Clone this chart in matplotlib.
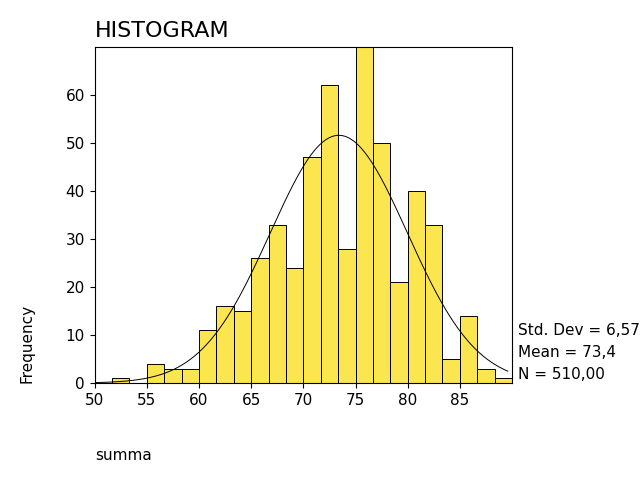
import numpy as np
import matplotlib
matplotlib.use("Agg")
import matplotlib.pyplot as plt

# histogram data (bin width 5/3 starting at 50)
bin_start = 50.0
bin_width = 5.0 / 3.0
counts = [0, 1, 0, 4, 3, 3, 11, 16, 15, 26, 33, 24, 47, 62, 28, 70, 50, 21, 40, 33, 5, 14, 3, 1]
mean_val = 73.4
std_val = 6.57
n_total = 510

edges = bin_start + bin_width * np.arange(len(counts))

fig = plt.figure(figsize=(6.4, 4.8), dpi=100)
ax = fig.add_axes([0.148, 0.202, 0.652, 0.700])

ax.bar(edges, counts, width=bin_width, align="edge", color="#fbe64f",
       edgecolor="black", linewidth=0.7)

xs = np.linspace(bin_start, 89.6, 300)
ys = n_total * bin_width / (std_val * np.sqrt(2 * np.pi)) * np.exp(-0.5 * ((xs - mean_val) / std_val) ** 2)
ax.plot(xs, ys, color="black", linewidth=0.7)

ax.set_xlim(bin_start, bin_start + bin_width * len(counts))
ax.set_ylim(0, 70)
ax.set_xticks([50, 55, 60, 65, 70, 75, 80, 85])
ax.set_yticks([0, 10, 20, 30, 40, 50, 60])
ax.tick_params(labelsize=11)

fig.text(0.148, 0.935, "HISTOGRAM", fontsize=16, ha="left", va="center")
fig.text(0.042, 0.285, "Frequency", rotation=90, fontsize=11, ha="center", va="center")
fig.text(0.148, 0.05, "summa", fontsize=11, ha="left", va="center")
fig.text(0.809, 0.312, "Std. Dev = 6,57", fontsize=11, ha="left", va="center")
fig.text(0.809, 0.265, "Mean = 73,4", fontsize=11, ha="left", va="center")
fig.text(0.809, 0.219, "N = 510,00", fontsize=11, ha="left", va="center")

fig.savefig("out.png")
